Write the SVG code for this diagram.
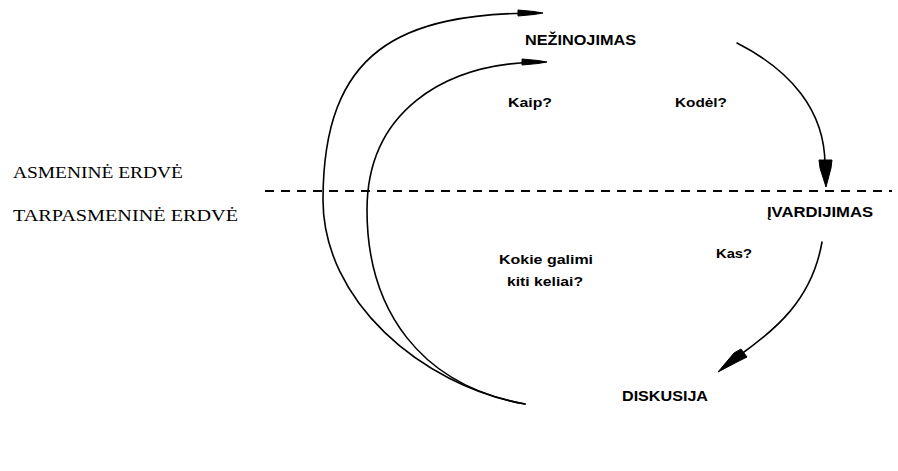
<svg xmlns="http://www.w3.org/2000/svg" width="898" height="471" viewBox="0 0 898 471">
  <style>
    .bg { fill: #ffffff; }
    .lbl { font-family: "Liberation Sans", Arial, sans-serif; font-weight: bold; fill: #000; }
    .big { font-size: 15px; }
    .q { font-size: 13px; }
    .serif { font-family: "Liberation Serif", "Times New Roman", serif; font-size: 16px; fill: #000; }
    .curve { fill: none; stroke: #000; stroke-width: 1.6; stroke-linecap: round; }
    .dash { fill: none; stroke: #000; stroke-width: 2; stroke-dasharray: 9 7; }
    .head { fill: #000; stroke: #000; stroke-width: 1; stroke-linejoin: round; }
  </style>
  <rect class="bg" x="0" y="0" width="898" height="471"/>

  <g id="separator">
    <line class="dash" x1="265" y1="191" x2="892" y2="191"/>
  </g>

  <g id="connectors">
    <path class="curve" d="M 525,404 C 420,385 323,300 323,200 C 323,50 400,13 540,13"/>
    <polygon class="head" points="543,13 534,11.5 518,10 518,16 534,14.5"/>
    <path class="curve" d="M 525,404 C 420,385 367,310 367,210 C 367,115 440,62 544,62"/>
    <polygon class="head" points="547,62 538,60.5 522,59 522,65 538,63.5"/>
    <path class="curve" d="M 737,43 C 790,70 825,110 825,165"/>
    <polygon class="head" points="826,187 820,168 819,160 832,160 831,168"/>
    <path class="curve" d="M 822,242 C 812,300 775,330 740,355"/>
    <polygon class="head" points="718,372 734,353 741,349 747,357 737,362"/>
  </g>

  <g id="space-labels">
    <text class="serif" x="13" y="178" textLength="170" lengthAdjust="spacingAndGlyphs">ASMENINĖ ERDVĖ</text>
    <text class="serif" x="13" y="221" textLength="225" lengthAdjust="spacingAndGlyphs">TARPASMENINĖ ERDVĖ</text>
  </g>

  <g id="nezinojimas">
    <text class="lbl big" x="525" y="45" textLength="111" lengthAdjust="spacingAndGlyphs">NEŽINOJIMAS</text>
  </g>
  <g id="ivardijimas">
    <text class="lbl big" x="767" y="217" textLength="106" lengthAdjust="spacingAndGlyphs">ĮVARDIJIMAS</text>
  </g>
  <g id="diskusija">
    <text class="lbl big" x="622" y="401" textLength="86" lengthAdjust="spacingAndGlyphs">DISKUSIJA</text>
  </g>

  <g id="questions">
    <text class="lbl q" x="508" y="107" textLength="44" lengthAdjust="spacingAndGlyphs">Kaip?</text>
    <text class="lbl q" x="675" y="107" textLength="52" lengthAdjust="spacingAndGlyphs">Kodėl?</text>
    <text class="lbl q" x="716" y="258" textLength="36" lengthAdjust="spacingAndGlyphs">Kas?</text>
    <text class="lbl q" x="499" y="264" textLength="94" lengthAdjust="spacingAndGlyphs">Kokie galimi</text>
    <text class="lbl q" x="507" y="286" textLength="76" lengthAdjust="spacingAndGlyphs">kiti keliai?</text>
  </g>
</svg>
